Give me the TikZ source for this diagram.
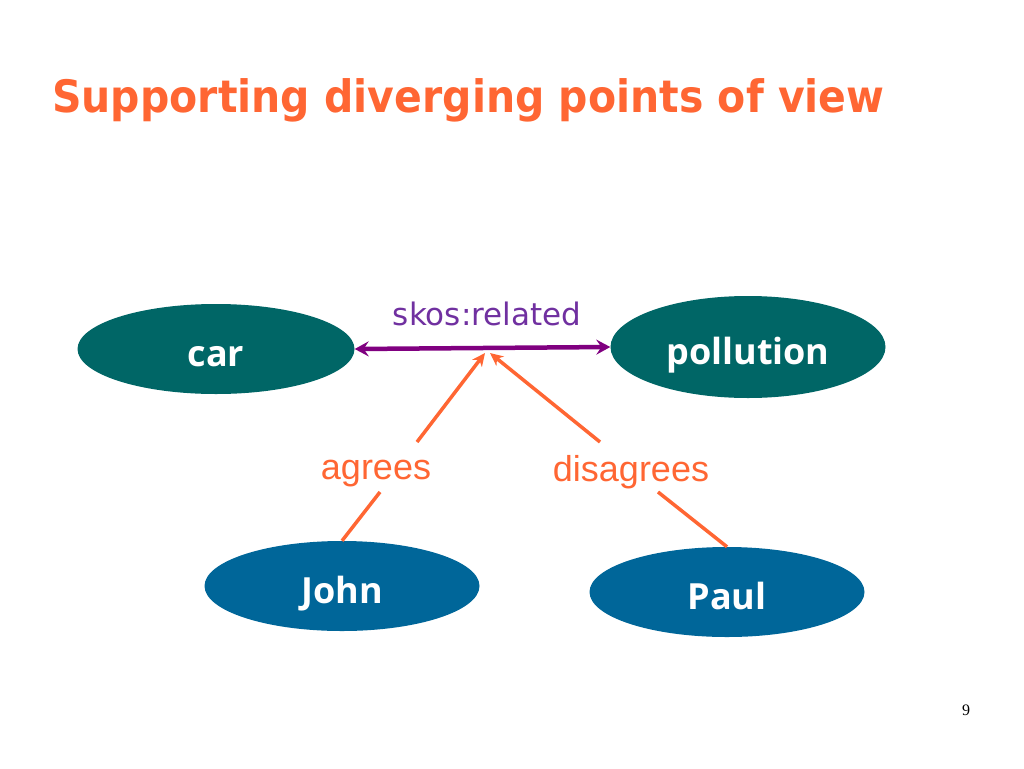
\documentclass[tikz,border=0pt]{standalone}
\usepackage{fontspec}
\usepackage{tikz}
\usetikzlibrary{arrows.meta}
\usetikzlibrary{shapes.geometric}
\setmainfont{Liberation Serif}
\newfontfamily\titlefont{DejaVu Sans}
\newfontfamily\nodefont{Open Sans}
\newfontfamily\labelfont{Liberation Sans}
\definecolor{slideorange}{RGB}{255,102,51}
\definecolor{teal}{RGB}{0,102,102}
\definecolor{ocean}{RGB}{0,102,153}
\definecolor{plum}{RGB}{128,0,128}
\definecolor{plumtext}{RGB}{112,48,160}

\begin{document}
\begin{tikzpicture}[
  x=1pt, y=-1pt,
  concept/.style = {ellipse, fill=#1, draw=none, inner sep=0pt,
                    minimum width=277pt, minimum height=90pt,
                    text height=34pt, text depth=0pt,
                    text=white, font=\nodefont\bfseries\fontsize{36}{40}\selectfont},
  opinion/.style = {text=slideorange, inner sep=0pt,
                    font=\labelfont\fontsize{36}{40}\selectfont},
  link/.style = {plum, line width=4.5pt,
                 {Stealth[length=14pt,width=15pt,inset=5pt]}-{Stealth[length=14pt,width=15pt,inset=5pt]}},
  vote/.style = {slideorange, line width=3.5pt}
                   ]
\useasboundingbox (0,0) rectangle (1024,768);
% title
\node[anchor=base west, inner sep=0pt, text=slideorange,
      font=\titlefont\bfseries\fontsize{41}{45}\selectfont] (title) at (52,112)
  {\scalebox{1}[1.09]{Supporting diverging points of view}};
% concepts and people
\node[concept=teal] (car) at (216,349) {car};
\node[concept=teal, minimum width=275pt, minimum height=102pt] (pollution) at (748,347) {pollution};
\node[concept=ocean, minimum width=275pt] (john) at (342,586) {John};
\node[concept=ocean, minimum width=275pt] (paul) at (727,592) {Paul};
% skos relation
\draw[link] (car.east) -- (pollution.west);
\node[text=plumtext, font=\titlefont\fontsize{31}{34}\selectfont] (related) at (487,314) {skos:related};
% opinions on the relation
\coordinate (tipA) at (485,353);
\coordinate (tipD) at (490,353);
\coordinate (a1) at (417,442);
\coordinate (a2) at (380,492);
\coordinate (d1) at (600,442);
\coordinate (d2) at (658,492);
\node[opinion] (agrees) at (376,474) {agrees};
\node[opinion] (disagrees) at (631,472) {disagrees};
\draw[vote] (john.north) -- (a2);
\draw[vote, -{Stealth[length=13pt,width=12pt,inset=4pt]}] (a1) -- (tipA);
\draw[vote] (paul.north) -- (d2);
\draw[vote, -{Stealth[length=13pt,width=12pt,inset=4pt]}] (d1) -- (tipD);
% page number
\node[font=\fontsize{16}{18}\selectfont] (page) at (966,710) {9};
\end{tikzpicture}
\end{document}
